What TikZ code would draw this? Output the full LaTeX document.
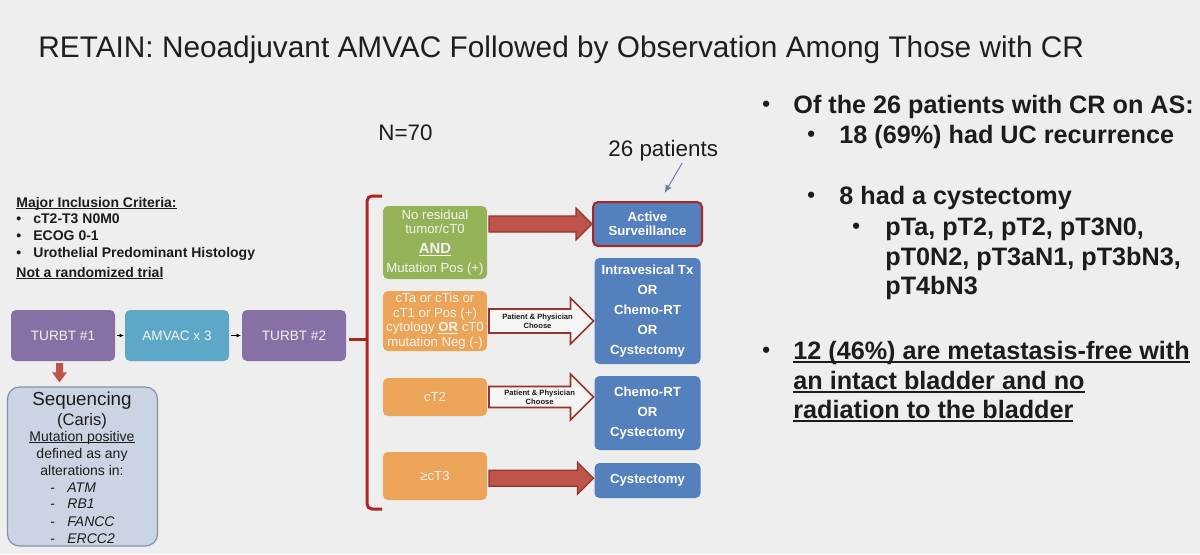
\documentclass[tikz,border=0pt]{standalone}
\usepackage{fontspec}
\setmainfont{Liberation Sans}
\usepackage{tikz}
\usetikzlibrary{arrows.meta,positioning,calc}
\definecolor{slidebg}{RGB}{238,238,238}
\definecolor{txtgray}{RGB}{28,28,28}
\definecolor{boxtxt}{RGB}{244,243,238}
\definecolor{turbtpurple}{RGB}{134,112,165}
\definecolor{amvacteal}{RGB}{93,168,198}
\definecolor{crgreen}{RGB}{148,179,88}
\definecolor{resorange}{RGB}{236,164,88}
\definecolor{txblue}{RGB}{84,128,190}
\definecolor{arrred}{RGB}{190,84,74}
\definecolor{arrline}{RGB}{150,52,46}
\definecolor{bracered}{RGB}{172,38,34}
\definecolor{seqfill}{RGB}{203,212,226}
\definecolor{seqline}{RGB}{130,146,172}
\definecolor{pointblue}{RGB}{105,128,170}

% underline at a fixed depth
\newlength\ulw
\newcommand{\ulin}[1]{\settowidth{\ulw}{#1}\rlap{\rule[-.14em]{\ulw}{.055em}}#1}
% smaller bullet for the outcome list
\newcommand{\sbul}[1]{\makebox[#1][l]{\raisebox{0.8pt}{\fontsize{11}{11}\selectfont•}}}

% fat block arrow: style, from, to, y of, half shaft, half head
\newcommand{\fatarrow}[6]{%
  \draw[#1] let \p1=(#2.east), \p2=(#3.west), \p3=(#4) in
    ({\x1+1pt},{\y3+#5}) -- ({\x2-0.5pt-#6},{\y3+#5}) -- ({\x2-0.5pt-#6},{\y3+#6})
    -- ({\x2-0.5pt},\y3) -- ({\x2-0.5pt-#6},{\y3-#6}) -- ({\x2-0.5pt-#6},{\y3-#5})
    -- ({\x1+1pt},{\y3-#5}) -- cycle;}

\begin{document}
\begin{tikzpicture}[x=0.5pt,y=-0.5pt,
  box/.style={rounded corners=2.5pt,inner sep=0pt,outer sep=0pt,align=center,
    text=boxtxt,minimum width=52pt},
  stepbox/.style={box,minimum height=25.5pt,font=\fontsize{6.8}{8}\selectfont},
  resbox/.style={box,fill=resorange,font=\fontsize{6.6}{7.2}\selectfont},
  txbox/.style={box,fill=txblue,text=white,minimum width=53pt,
    font=\fontsize{6.6}{9.9}\selectfont\bfseries},
  line/.style={anchor=base west,inner sep=0pt,text=txtgray},
  incl/.style={line,font=\fontsize{7}{8}\selectfont\bfseries},
  rtxt/.style={line,font=\fontsize{12.6}{15}\selectfont\bfseries},
  seqtxt/.style={anchor=base,inner sep=0pt,text=txtgray,font=\fontsize{7}{8}\selectfont},
  item/.style={line,font=\fontsize{7}{8}\selectfont},
  flow/.style={-{Latex[length=2.2pt,width=2pt]},line width=0.5pt,black,shorten <=1pt,shorten >=0.5pt},
  redarrow/.style={fill=arrred,draw=arrline,line width=0.6pt},
  openarrow/.style={fill=white!96!black,draw=arrline,line width=0.8pt},
  choose/.style={inner sep=0pt,align=center,text=txtgray,font=\fontsize{3.8}{4.5}\selectfont\bfseries},
  pointer/.style={-{Latex[length=4pt,width=3.5pt]},pointblue,line width=0.5pt},
]
  \path[use as bounding box,fill=slidebg] (0,0) rectangle (1200,554);

  % title
  \node[line,font=\fontsize{14.9}{18}\selectfont,text=black!88] (title) at (38,57)
    {RETAIN: Neoadjuvant AMVAC Followed by Observation Among Those with CR};

  % inclusion criteria
  \node[incl] (inc0) at (16,207) {\ulin{Major Inclusion Criteria:}};
  \node[incl] (inc1) at (16,223) {\makebox[8.5pt][l]{•}cT2-T3 N0M0};
  \node[incl] (inc2) at (16,240) {\makebox[8.5pt][l]{•}ECOG 0-1};
  \node[incl] (inc3) at (16,257) {\makebox[8.5pt][l]{•}Urothelial Predominant Histology};
  \node[incl] (inc4) at (16,277) {\ulin{Not a randomized trial}};

  % treatment steps
  \node[stepbox,fill=turbtpurple] (t1) at (63,335.5) {TURBT \#1};
  \node[stepbox,fill=amvacteal,right=5pt of t1] (am) {AMVAC x 3};
  \node[stepbox,fill=turbtpurple,right=6.5pt of am] (t2) {TURBT \#2};
  \draw[flow] (t1) -- (am);
  \draw[flow] (am) -- (t2);

  % sequencing
  \node[draw=seqline,fill=seqfill,line width=0.6pt,rounded corners=6pt,
    minimum width=75pt,minimum height=79.5pt,inner sep=0pt] (seq) at (82.5,466.5) {};
  \fill[arrred] let \p1=($(t1.south)+(-3.5,2)$), \p2=(seq.north) in
    (\x1-1.75pt,\y1) -- (\x1+1.75pt,\y1) -- (\x1+1.75pt,\y2+7pt) -- (\x1+3.75pt,\y2+7pt)
    -- (\x1,\y2+2pt) -- (\x1-3.75pt,\y2+7pt) -- (\x1-1.75pt,\y2+7pt) -- cycle;
  \node[seqtxt,font=\fontsize{9.4}{10}\selectfont] (sq1) at (82,405) {Sequencing};
  \node[seqtxt,font=\fontsize{8.3}{10}\selectfont] (sq2) at (82,425) {(Caris)};
  \node[seqtxt] (sq3) at (82,441) {\ulin{Mutation positive}};
  \node[seqtxt] (sq4) at (82,458) {defined as any};
  \node[seqtxt] (sq5) at (82,475) {alterations in:};
  \node[item] (g1a) at (50,492) {\makebox[8.5pt][l]{-}\textit{ATM}};
  \node[item] (g2a) at (50,508) {\makebox[8.5pt][l]{-}\textit{RB1}};
  \node[item] (g3a) at (50,526) {\makebox[8.5pt][l]{-}\textit{FANCC}};
  \node[item] (g4a) at (50,543) {\makebox[8.5pt][l]{-}\textit{ERCC2}};

  % brace
  \coordinate (tip) at (367,339);
  \draw[bracered,line width=1.5pt,rounded corners=2.5pt] (382,196) -- (367,196) -- (367,509) -- (382,509);
  \draw[bracered,line width=1.5pt] ($(t2.east)+(3,3.5)$) -- (tip);
  \node[line,font=\fontsize{11.2}{13}\selectfont] (n70) at (378,140) {N=70};

  % responses after TURBT #2
  \node[box,fill=crgreen,minimum height=36.5pt,font=\fontsize{6.6}{7}\selectfont] (g1) at (435,242.5)
    {No residual\\tumor/cT0\\[3.2pt]{\fontsize{7.4}{8}\selectfont\bfseries\ulin{AND}}\\[2.6pt]Mutation Pos (+)};
  \node[resbox,minimum height=30pt,below=6pt of g1] (o1)
    {cTa or cTis or\\cT1 or Pos (+)\\cytology \textbf{\ulin{OR}} cT0\\mutation Neg (-)};
  \node[resbox,minimum height=19pt,below=13.5pt of o1] (o2) {cT2};
  \node[resbox,minimum height=24pt,below=18pt of o2] (o3) {≥cT3};

  % management
  \node[txbox,draw=bracered,line width=1pt,minimum width=54.5pt,minimum height=22pt,
    font=\fontsize{6.6}{7}\selectfont\bfseries] (as) at (647.5,224) {Active\\Surveillance};
  \node[txbox,minimum height=53pt,below=6pt of as] (b2)
    {Intravesical Tx\\OR\\Chemo-RT\\OR\\Cystectomy};
  \node[txbox,minimum height=37pt,below=6pt of b2] (b3) {Chemo-RT\\OR\\Cystectomy};
  \node[txbox,minimum height=17.5pt,below=6.5pt of b3] (b4) {Cystectomy};

  \fatarrow{redarrow}{g1}{as}{as}{4pt}{8pt}
  \fatarrow{openarrow}{o1}{b2}{o1}{6pt}{11.5pt}
  \fatarrow{openarrow}{o2}{b3}{o2}{5.25pt}{11.5pt}
  \fatarrow{redarrow}{o3}{b4}{$(o3)!.5!(b4)$}{4pt}{8pt}
  \node[choose] (c1) at ($(o1.east)!.47!(b2.west |- o1.east)$) {Patient \& Physician\\Choose};
  \node[choose] (c2) at ($(o2.east)!.49!(b3.west |- o2.east)$) {Patient \& Physician\\Choose};

  \node[line,font=\fontsize{11.2}{13}\selectfont] (pat) at (608,156) {26 patients};
  \draw[pointer] ($(pat.south)+(19,2)$) -- ($(as.north)+(17,-9)$);

  % outcomes
  \node[rtxt] (r1) at (762,113) {\sbul{15.5pt}Of the 26 patients with CR on AS:};
  \node[rtxt] (r2) at (807,143) {\sbul{16pt}18 (69\%) had UC recurrence};
  \node[rtxt] (r3) at (807,204) {\sbul{16pt}8 had a cystectomy};
  \node[rtxt] (r4) at (852,235) {\sbul{16.5pt}pTa, pT2, pT2, pT3N0,};
  \node[rtxt] (r5) at (885,265) {pT0N2, pT3aN1, pT3bN3,};
  \node[rtxt] (r6) at (885,294) {pT4bN3};
  \node[rtxt] (r7) at (762,359) {\sbul{15.5pt}\ulin{12 (46\%) are metastasis-free with}};
  \node[rtxt] (r8) at (793,389) {\ulin{an intact bladder and no}};
  \node[rtxt] (r9) at (793,418) {\ulin{radiation to the bladder}};
\end{tikzpicture}
\end{document}
